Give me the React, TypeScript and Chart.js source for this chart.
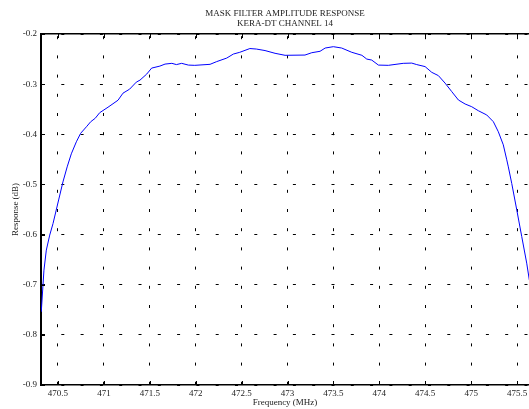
import React, { useEffect, useRef } from "react";
import { Chart, registerables } from "chart.js";

Chart.register(...registerables);

const TITLE_LINES = ["MASK FILTER AMPLITUDE RESPONSE", "KERA-DT CHANNEL 14"];
const X_LABEL = "Frequency (MHz)";
const Y_LABEL = "Response (dB)";

const X_TICKS = [470.5, 471, 471.5, 472, 472.5, 473, 473.5, 474, 474.5, 475, 475.5];
const Y_TICKS = [-0.9, -0.8, -0.7, -0.6, -0.5, -0.4, -0.3, -0.2];

const FREQ = [
  470.318, 470.347, 470.373, 470.41, 470.446, 470.507, 470.554, 470.6, 470.645, 470.7,
  470.747, 470.81, 470.856, 470.906, 470.954, 471.045, 471.154, 471.208, 471.28, 471.353,
  471.393, 471.466, 471.52, 471.61, 471.666, 471.74, 471.79, 471.847, 471.92, 471.99,
  472.156, 472.229, 472.338, 472.41, 472.48, 472.59, 472.66, 472.755, 472.864, 472.973,
  473.19, 473.264, 473.354, 473.41, 473.499, 473.59, 473.7, 473.81, 473.863, 473.917,
  473.99, 474.098, 474.26, 474.353, 474.407, 474.498, 474.571, 474.643, 474.716, 474.789,
  474.861, 474.934, 475.006, 475.078, 475.17, 475.242, 475.296, 475.35, 475.388, 475.405,
  475.442, 475.497, 475.551, 475.605, 475.634,
];

const RESPONSE = [
  -0.754, -0.671, -0.631, -0.601, -0.578, -0.531, -0.495, -0.465, -0.439, -0.415,
  -0.398, -0.385, -0.375, -0.368, -0.357, -0.346, -0.332, -0.318, -0.31, -0.296,
  -0.292, -0.28, -0.268, -0.264, -0.26, -0.2585, -0.261, -0.2585, -0.262, -0.2625,
  -0.2605, -0.255, -0.248, -0.24, -0.2365, -0.229, -0.23, -0.233, -0.2385, -0.2425,
  -0.242, -0.2373, -0.2345, -0.228, -0.2253, -0.228, -0.2365, -0.2425, -0.25, -0.252,
  -0.262, -0.2625, -0.2585, -0.258, -0.261, -0.265, -0.2765, -0.283, -0.298, -0.315,
  -0.3316, -0.3396, -0.345, -0.353, -0.3615, -0.375, -0.395, -0.421, -0.451, -0.465,
  -0.498, -0.551, -0.604, -0.657, -0.691,
];

const X_MIN = 470.315;
const X_MAX = 475.63;
const Y_MIN = -0.9;
const Y_MAX = -0.2;

const FONT_FAMILY = "'Liberation Serif', 'Times New Roman', serif";
const TEXT_COLOR = "#222";

const decorPlugin = {
  id: "decor",
  afterDraw(chart: any) {
    const { ctx, chartArea } = chart;
    const { left, right, top, bottom } = chartArea;
    const xs = chart.scales.x;
    const ys = chart.scales.y;
    ctx.save();
    ctx.strokeStyle = "#000";
    ctx.lineWidth = 1;
    ctx.beginPath();
    xs.ticks.forEach((t: any) => {
      const px = Math.round(xs.getPixelForValue(t.value)) + 0.5;
      ctx.moveTo(px, top);
      ctx.lineTo(px, top + 4);
      ctx.moveTo(px, bottom);
      ctx.lineTo(px, bottom - 4);
    });
    ys.ticks.forEach((t: any) => {
      const py = Math.round(ys.getPixelForValue(t.value)) + 0.5;
      ctx.moveTo(left, py);
      ctx.lineTo(left + 4, py);
    });
    ctx.stroke();
    ctx.fillStyle = TEXT_COLOR;
    ctx.font = `9px ${FONT_FAMILY}`;
    ctx.textAlign = "center";
    ctx.textBaseline = "middle";
    const cx = (left + right) / 2;
    TITLE_LINES.forEach((s, i) => ctx.fillText(s, cx, 14 + i * 10));
    ctx.restore();
  },
};

export default function App() {
  const canvasRef = useRef<HTMLCanvasElement | null>(null);

  useEffect(() => {
    document.body.style.margin = "0";
    const canvas = canvasRef.current;
    if (!canvas) return;
    const points = FREQ.map((f, i) => ({ x: f, y: RESPONSE[i] }));
    const tickFont = { family: FONT_FAMILY, size: 9 };
    const chart = new Chart(canvas, {
      type: "line",
      data: {
        datasets: [
          {
            data: points,
            borderColor: "#0000ff",
            borderWidth: 1,
            pointRadius: 0,
            tension: 0,
            fill: false,
          },
        ],
      },
      options: {
        animation: false,
        responsive: false,
        maintainAspectRatio: false,
        layout: { padding: { top: 34, right: 0, bottom: 0, left: 0 } },
        plugins: {
          legend: { display: false },
          title: { display: false },
          tooltip: { enabled: false },
        },
        scales: {
          x: {
            type: "linear",
            position: "bottom",
            min: X_MIN,
            max: X_MAX,
            afterBuildTicks: (s: any) => {
              s.ticks = X_TICKS.map((v) => ({ value: v }));
            },
            afterFit: (s: any) => {
              s.height = 24;
              s.paddingLeft = 0;
              s.paddingRight = 0;
            },
            ticks: {
              autoSkip: false,
              maxRotation: 0,
              padding: 3,
              color: TEXT_COLOR,
              font: tickFont,
              callback: (v: any) => String(v),
            },
            grid: { color: "#000", lineWidth: 1, drawTicks: false },
            border: { display: true, color: "#000", width: 1.5, dash: [3, 16.2], dashOffset: 17 },
            title: {
              display: true,
              text: X_LABEL,
              color: TEXT_COLOR,
              font: tickFont,
              padding: { top: 0, bottom: 0.6 },
            },
          },
          x2: {
            type: "linear",
            position: "top",
            min: X_MIN,
            max: X_MAX,
            afterFit: (s: any) => {
              s.height = 0;
              s.paddingLeft = 0;
              s.paddingRight = 0;
            },
            ticks: { display: false },
            grid: { display: false, drawTicks: false },
            border: { display: true, color: "#000", width: 1.5 },
          },
          y: {
            type: "linear",
            position: "left",
            min: Y_MIN,
            max: Y_MAX,
            afterBuildTicks: (s: any) => {
              s.ticks = Y_TICKS.map((v) => ({ value: v }));
            },
            afterFit: (s: any) => {
              s.width = 41;
              s.paddingTop = 0;
              s.paddingBottom = 0;
            },
            ticks: {
              padding: 4,
              color: TEXT_COLOR,
              font: tickFont,
              callback: (v: any) => Number(v).toFixed(1),
            },
            grid: { color: "#000", lineWidth: 1, drawTicks: false },
            border: { display: true, color: "#000", width: 2, dash: [3, 16.3], dashOffset: 0 },
            title: {
              display: true,
              text: Y_LABEL,
              color: TEXT_COLOR,
              font: tickFont,
              padding: { top: 10, bottom: 0 },
            },
          },
        },
      },
      plugins: [decorPlugin],
    } as any);
    return () => chart.destroy();
  }, []);

  return (
    <div style={{ width: 529, height: 409 }}>
      <canvas ref={canvasRef} width={529} height={409} style={{ display: "block" }} />
    </div>
  );
}
